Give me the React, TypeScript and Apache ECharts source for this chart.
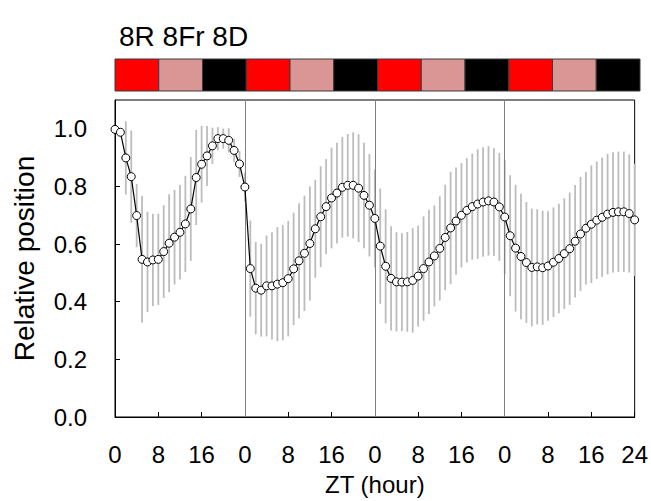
import React, { useEffect, useRef } from 'react';
import * as echarts from 'echarts';

// ZT hours 0..96 (index = hour)
const meanValues = [
  0.998, 0.988, 0.899, 0.834, 0.699, 0.547, 0.538, 0.545, 0.547, 0.574,
  0.603, 0.624, 0.641, 0.670, 0.722, 0.831, 0.877, 0.906, 0.941, 0.966,
  0.966, 0.960, 0.925, 0.878, 0.798, 0.515, 0.447, 0.440, 0.455, 0.455,
  0.461, 0.466, 0.480, 0.514, 0.542, 0.568, 0.602, 0.653, 0.695, 0.730,
  0.760, 0.777, 0.797, 0.804, 0.804, 0.794, 0.769, 0.735, 0.689, 0.593,
  0.523, 0.481, 0.469, 0.468, 0.469, 0.474, 0.489, 0.515, 0.538, 0.559,
  0.585, 0.623, 0.656, 0.680, 0.700, 0.717, 0.730, 0.739, 0.746, 0.750,
  0.746, 0.729, 0.694, 0.629, 0.586, 0.557, 0.536, 0.519, 0.521, 0.518,
  0.524, 0.537, 0.550, 0.567, 0.584, 0.610, 0.635, 0.655, 0.669, 0.683,
  0.693, 0.704, 0.710, 0.712, 0.712, 0.706, 0.684,
];

const errValues = [
  0.0, 0.01, 0.127, 0.16, 0.11, 0.22, 0.174, 0.16, 0.158, 0.161,
  0.17, 0.164, 0.164, 0.167, 0.18, 0.165, 0.133, 0.104, 0.063, 0.04,
  0.035, 0.042, 0.04, 0.045, 0.05, 0.167, 0.16, 0.161, 0.175, 0.186,
  0.198, 0.2, 0.2, 0.195, 0.2, 0.2, 0.198, 0.17, 0.175, 0.165,
  0.175, 0.175, 0.175, 0.178, 0.184, 0.187, 0.183, 0.178, 0.17, 0.2,
  0.198, 0.181, 0.172, 0.17, 0.173, 0.181, 0.175, 0.181, 0.181, 0.175,
  0.181, 0.183, 0.195, 0.186, 0.181, 0.181, 0.184, 0.19, 0.19, 0.19,
  0.187, 0.187, 0.198, 0.21, 0.22, 0.218, 0.21, 0.204, 0.2, 0.198,
  0.19, 0.19, 0.19, 0.192, 0.195, 0.195, 0.198, 0.195, 0.204, 0.204,
  0.207, 0.209, 0.209, 0.209, 0.209, 0.205, 0.195,
];

const phaseStarts = [0, 8, 16, 24, 32, 40, 48, 56, 64, 72, 80, 88];
const phaseTypes = ['R', 'Fr', 'D', 'R', 'Fr', 'D', 'R', 'Fr', 'D', 'R', 'Fr', 'D'];
const phaseLength = 8;
const phaseColors: Record<string, string> = { R: '#ff0000', Fr: '#d99694', D: '#000000' };

const dayBoundaries = [24, 48, 72];
const xTickLabels = ['0', '8', '16', '0', '8', '16', '0', '8', '16', '0', '8', '16', '24'];

const FONT = '"Liberation Sans", Arial, Helvetica, sans-serif';

export default function App() {
  const ref = useRef<HTMLDivElement>(null);

  useEffect(() => {
    if (!ref.current) return;
    const chart = echarts.init(ref.current, null, { renderer: 'svg' });

    const lineData = meanValues.map((v, i) => [i, v]);
    const errData = meanValues.map((v, i) => [i, v - errValues[i], v + errValues[i]]);
    const phaseData = phaseStarts.map((s, i) => [s, s + phaseLength, i]);

    chart.setOption({
      animation: false,
      textStyle: { fontFamily: FONT },
      title: {
        text: '8R 8Fr 8D',
        left: 114,
        top: 17,
        textStyle: { fontFamily: FONT, fontSize: 28, fontWeight: 'normal', color: '#000' },
      },
      grid: [
        {
          left: 115, right: 11, top: 100, bottom: 77,
          show: true, borderColor: '#000', borderWidth: 1,
        },
        { left: 115, right: 11, top: 59, height: 32 },
      ],
      xAxis: [
        {
          type: 'value', gridIndex: 0, min: 0, max: 96, interval: 8,
          axisLine: { show: true, lineStyle: { color: '#000', width: 1 } },
          axisTick: { show: true, inside: true, length: 5, lineStyle: { color: '#000' } },
          axisLabel: {
            fontFamily: FONT, fontSize: 24, color: '#000', margin: 25,
            formatter: (v: number) => xTickLabels[Math.round(v / 8)] ?? '',
          },
          splitLine: { show: false },
          name: 'ZT (hour)', nameLocation: 'middle', nameGap: 55,
          nameTextStyle: { fontFamily: FONT, fontSize: 24, color: '#000' },
        },
        { type: 'value', gridIndex: 1, min: 0, max: 96, show: false },
      ],
      yAxis: [
        {
          type: 'value', gridIndex: 0, min: 0, max: 1.1, interval: 0.2,
          axisLine: { show: true, lineStyle: { color: '#000', width: 1 } },
          axisTick: { show: true, inside: true, length: 5, lineStyle: { color: '#000' } },
          axisLabel: {
            fontFamily: FONT, fontSize: 24, color: '#000', margin: 28,
            showMaxLabel: false,
            formatter: (v: number) => (v > 1.05 ? '' : v.toFixed(1)),
          },
          splitLine: { show: false },
          name: 'Relative position', nameLocation: 'middle', nameGap: 77,
          nameTextStyle: { fontFamily: FONT, fontSize: 28, color: '#000' },
        },
        { type: 'value', gridIndex: 1, min: 0, max: 1, show: false },
      ],
      series: [
        {
          type: 'custom',
          xAxisIndex: 1, yAxisIndex: 1,
          silent: true,
          data: phaseData,
          encode: { x: [0, 1] },
          renderItem: (params: any, api: any) => {
            const p0 = api.coord([api.value(0), 1]);
            const p1 = api.coord([api.value(1), 0]);
            const idx = api.value(2);
            return {
              type: 'rect',
              shape: { x: p0[0], y: p0[1], width: p1[0] - p0[0], height: p1[1] - p0[1] },
              style: { fill: phaseColors[phaseTypes[idx]], stroke: '#3a3a3a', lineWidth: 1 },
            };
          },
        },
        {
          type: 'custom',
          xAxisIndex: 0, yAxisIndex: 0,
          silent: true,
          z: 1,
          data: errData,
          encode: { x: 0, y: [1, 2] },
          renderItem: (params: any, api: any) => {
            const lo = api.coord([api.value(0), api.value(1)]);
            const hi = api.coord([api.value(0), api.value(2)]);
            return {
              type: 'line',
              shape: { x1: lo[0], y1: lo[1], x2: hi[0], y2: hi[1] },
              style: { stroke: '#bcbcbc', lineWidth: 1.8 },
            };
          },
        },
        {
          type: 'line',
          xAxisIndex: 0, yAxisIndex: 0,
          z: 3,
          data: lineData,
          symbol: 'circle',
          symbolSize: 8,
          showAllSymbol: true,
          lineStyle: { color: '#000', width: 1.2 },
          itemStyle: { color: '#fff', borderColor: '#000', borderWidth: 1 },
          markLine: {
            silent: true,
            symbol: 'none',
            label: { show: false },
            lineStyle: { color: '#808080', width: 1, type: 'solid' },
            data: dayBoundaries.map((h) => ({ xAxis: h })),
            z: 2,
          },
        },
      ],
    });

    return () => chart.dispose();
  }, []);

  return (
    <div
      ref={ref}
      style={{ position: 'absolute', left: 0, top: 0, width: 651, height: 501 }}
    />
  );
}
